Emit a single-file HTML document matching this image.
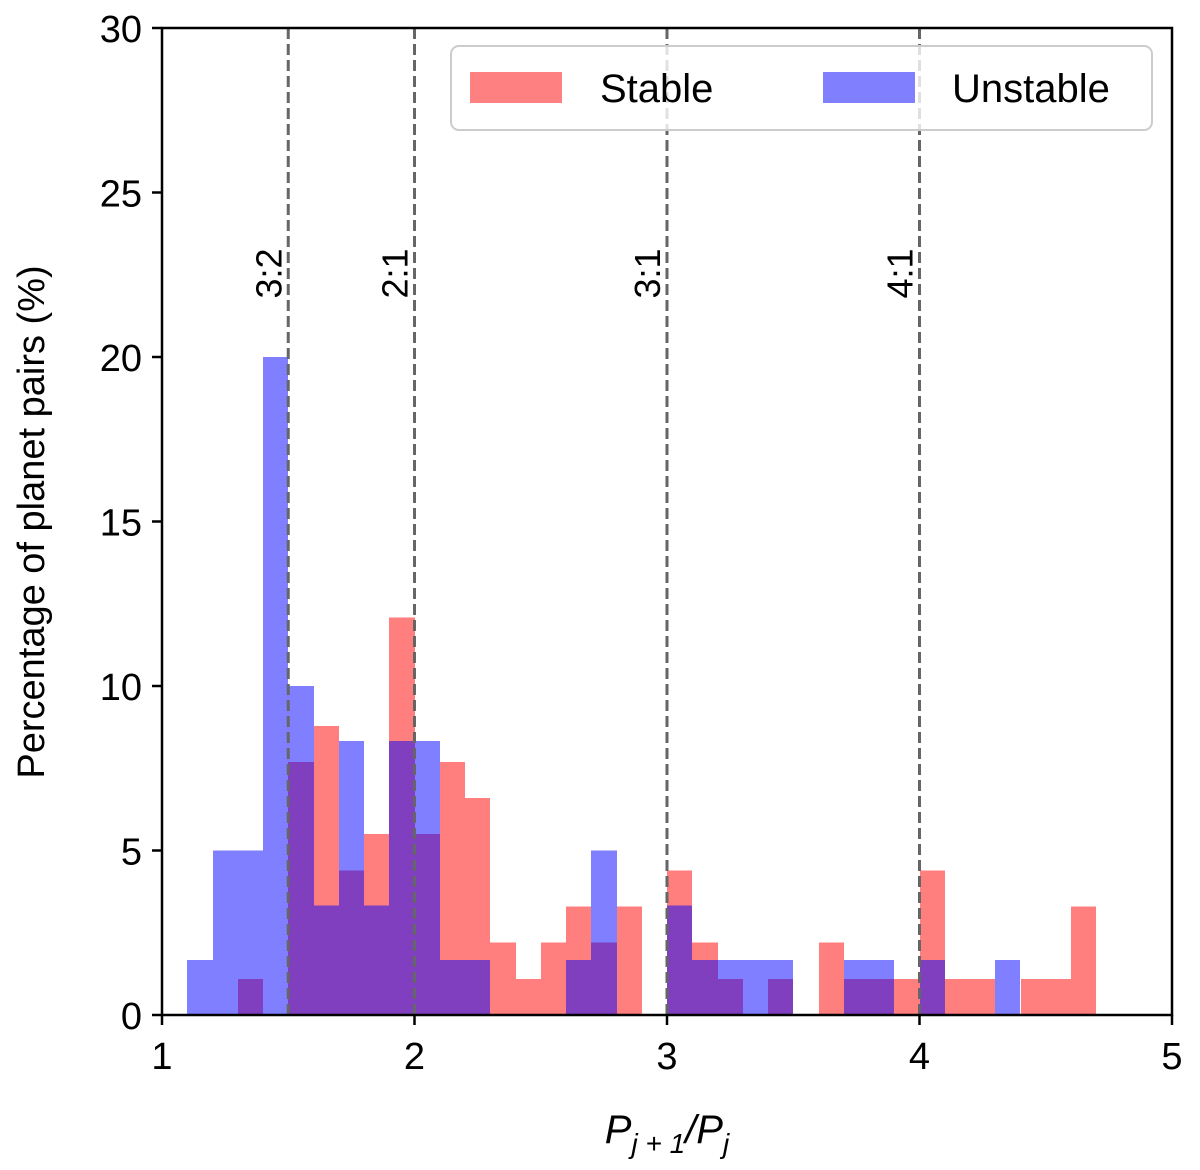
<!DOCTYPE html>
<html><head><meta charset="utf-8"><style>
html,body{margin:0;padding:0;background:#fff;}
svg{display:block;font-family:"Liberation Sans",Arial,sans-serif;}
</style></head><body>
<svg id="chart" width="1200" height="1170" viewBox="0 0 1200 1170">
<g id="bars" shape-rendering="crispEdges"></g>
<g id="axes"></g>
</svg>
<script>
const binStarts=[1.1,1.2,1.3,1.4,1.5,1.6,1.7,1.8,1.9,2.0,2.1,2.2,2.3,2.4,2.5,2.6,2.7,2.8,2.9,3.0,3.1,3.2,3.3,3.4,3.5,3.6,3.7,3.8,3.9,4.0,4.1,4.2,4.3,4.4,4.5,4.6];
const stableCounts=[0,0,1,0,7,8,4,5,11,5,7,6,2,1,2,3,2,3,0,4,2,1,0,1,0,2,1,1,1,4,1,1,0,1,1,3];
const unstableCounts=[1,3,3,12,6,2,5,2,5,5,1,1,0,0,0,1,3,0,0,2,1,1,1,1,0,0,1,1,0,1,0,0,1,0,0,0];
const stableTotal=91, unstableTotal=60, binWidth=0.1;
const xTicks=[1,2,3,4,5];
const yTicks=[0,5,10,15,20,25,30];
const resonances=[1.5,2,3,4];
const resonanceLabels=["3:2","2:1","3:1","4:1"];

const NS="http://www.w3.org/2000/svg";
const X0=162,X1=1172,Y0=1015,Y1=28;
const xs=v=>X0+(v-1)/(5-1)*(X1-X0);
const ys=v=>Y0-(v/30)*(Y0-Y1);
function mk(tag,attrs,parent){const e=document.createElementNS(NS,tag);for(const k in attrs)e.setAttribute(k,attrs[k]);parent.appendChild(e);return e;}
const bars=document.getElementById('bars'),axes=document.getElementById('axes');

function drawSeries(counts,total,color,name){
  counts.forEach((c,i)=>{
    if(!c)return;
    const v=c/total*100;
    const x=Math.round(xs(binStarts[i])),x2=Math.round(xs(binStarts[i]+binWidth));
    const r=mk('rect',{x:x,y:ys(v),width:x2-x,height:Y0-ys(v),fill:color,'fill-opacity':0.5},bars);
    
    
  });
}
drawSeries(stableCounts,stableTotal,'#ff0000','stable');
drawSeries(unstableCounts,unstableTotal,'#0000ff','unstable');

resonances.forEach((r,i)=>{
  const l=mk('line',{x1:xs(r),x2:xs(r),y1:Y1,y2:Y0,stroke:'#666','stroke-width':3,'stroke-dasharray':'11,5'},axes);
  
  
  const t=mk('text',{x:0,y:0,'font-size':36,'text-anchor':'end',transform:`translate(${xs(r)-7},${ys(23.3)}) rotate(-90)`},axes);
  t.textContent=resonanceLabels[i];
  
  
});

const frame=mk('rect',{x:X0,y:Y1,width:X1-X0,height:Y0-Y1,fill:'none',stroke:'#000','stroke-width':2.5},axes);



xTicks.forEach(v=>{
  mk('line',{x1:xs(v),x2:xs(v),y1:Y0,y2:Y0+10,stroke:'#000','stroke-width':2.5},axes);
  const t=mk('text',{x:xs(v),y:Y0+54,'font-size':38,'text-anchor':'middle'},axes);
  t.textContent=v;
  
  
});
yTicks.forEach(v=>{
  mk('line',{x1:X0-10,x2:X0,y1:ys(v),y2:ys(v),stroke:'#000','stroke-width':2.5},axes);
  const t=mk('text',{x:X0-20,y:ys(v)+14,'font-size':38,'text-anchor':'end'},axes);
  t.textContent=v;
  
  
});
</script>
<svg width="1200" height="1170" style="position:absolute;left:0;top:0">
<text x="0" y="0" font-size="38" text-anchor="middle" transform="translate(44,522) rotate(-90)" font-family="Liberation Sans, sans-serif">Percentage of planet pairs (%)</text>
<text x="667" y="1143" font-size="40" text-anchor="middle" font-family="Liberation Sans, sans-serif" font-style="italic">P<tspan font-size="28" dy="10">j + 1</tspan><tspan dy="-10">/P</tspan><tspan font-size="28" dy="10">j</tspan></text>
<g font-family="Liberation Sans, sans-serif">
<rect x="451" y="46" width="701" height="84" rx="8" fill="#fff" fill-opacity="0.8" stroke="#ccc" stroke-width="2"/>
<rect x="470" y="72" width="92" height="31" fill="#ff8080"/>
<text x="600" y="102" font-size="40">Stable</text>
<rect x="823" y="72" width="92" height="31" fill="#8080ff"/>
<text x="952" y="102" font-size="40">Unstable</text>
</g>
</svg>
</body></html>
